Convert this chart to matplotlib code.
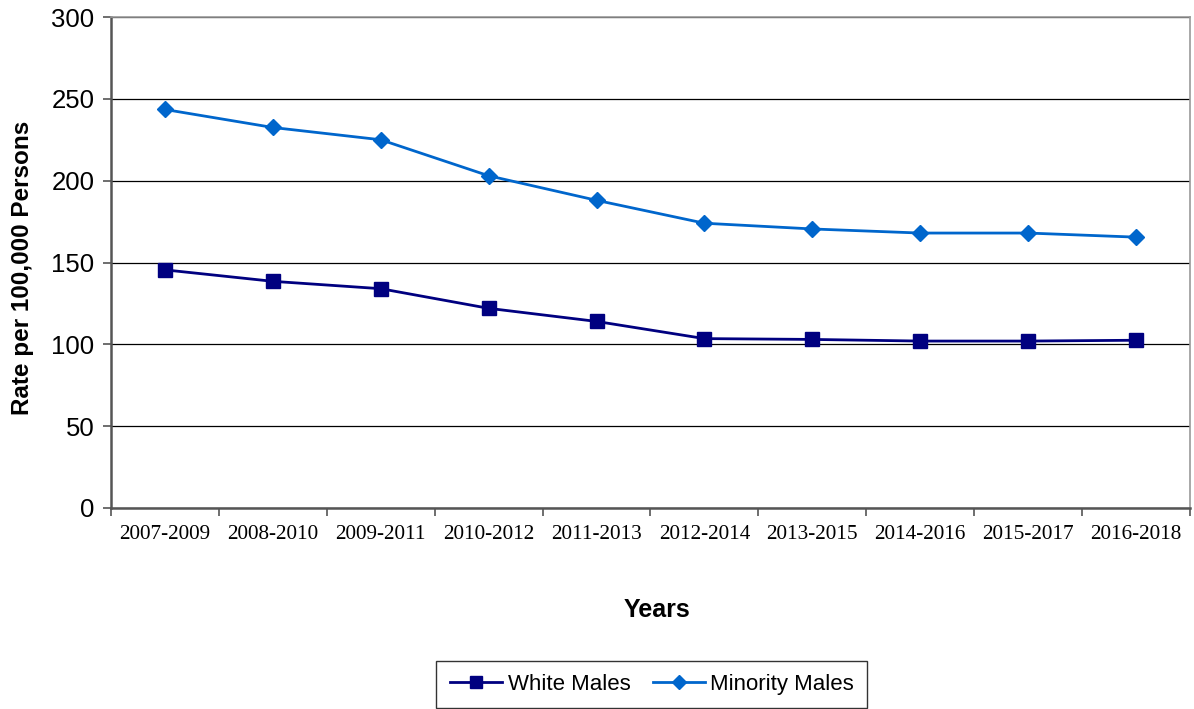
import matplotlib
matplotlib.use("Agg")
import matplotlib.pyplot as plt
import numpy as np

# Daten
years = ["2007-2009", "2008-2010", "2009-2011", "2010-2012", "2011-2013",
         "2012-2014", "2013-2015", "2014-2016", "2015-2017", "2016-2018"]
white_males = [145.5, 138.5, 134.0, 122.0, 114.0, 103.5, 103.0, 102.0, 102.0, 102.5]
minority_males = [243.5, 232.5, 225.0, 203.0, 188.0, 174.0, 170.5, 168.0, 168.0, 165.5]

fig = plt.figure(figsize=(11.94, 7.09), dpi=100)
ax = fig.add_axes([0.093, 0.2835, 0.9036, 0.6925])

x = np.arange(len(years))
ax.plot(x, white_males, color="#000080", lw=2, marker="s", ms=10, label="White Males")
ax.plot(x, minority_males, color="#0066CC", lw=2, marker="D", ms=8, label="Minority Males")

ax.set_xlim(-0.5, len(years) - 0.5)
ax.set_ylim(0, 300)
ax.set_yticks(range(0, 301, 50))
ax.yaxis.grid(True, color="black", lw=0.9)
ax.set_axisbelow(True)

ax.set_xticks(x)
ax.set_xticklabels(years, fontfamily="Liberation Serif", fontsize=15.3)
ax.set_xticks(np.arange(-0.5, len(years)), minor=True)
ax.tick_params(axis="x", which="major", length=0, pad=12)
ax.tick_params(axis="x", which="minor", length=6, width=1.2, color="#555555")
ax.tick_params(axis="y", length=6, width=1.2, color="#555555", labelsize=18.5, pad=6)
for lbl in ax.get_yticklabels():
    lbl.set_fontfamily("Liberation Sans")

for side in ["left", "bottom"]:
    ax.spines[side].set_color("#555555")
    ax.spines[side].set_linewidth(1.8)
for side in ["top", "right"]:
    ax.spines[side].set_color("#999999")
    ax.spines[side].set_linewidth(1.2)

ax.set_ylabel("Rate per 100,000 Persons", fontfamily="Liberation Sans",
              fontweight="bold", fontsize=17.5)
ax.yaxis.set_label_coords(-0.071, 0.49)
fig.text(0.55, 0.14, "Years", ha="center", va="center", fontfamily="Liberation Sans",
         fontweight="bold", fontsize=18)

leg = fig.legend(loc="center", bbox_to_anchor=(0.546, 0.0345), ncol=2, frameon=True,
                 fancybox=False, edgecolor="black", prop={"family": "Liberation Sans", "size": 16},
                 handlelength=2.35, columnspacing=1.0, handletextpad=0.25, borderpad=0.6,
                 borderaxespad=0, markerscale=0.85)
leg.get_frame().set_linewidth(1.0)

fig.savefig("out.png", dpi=100)
